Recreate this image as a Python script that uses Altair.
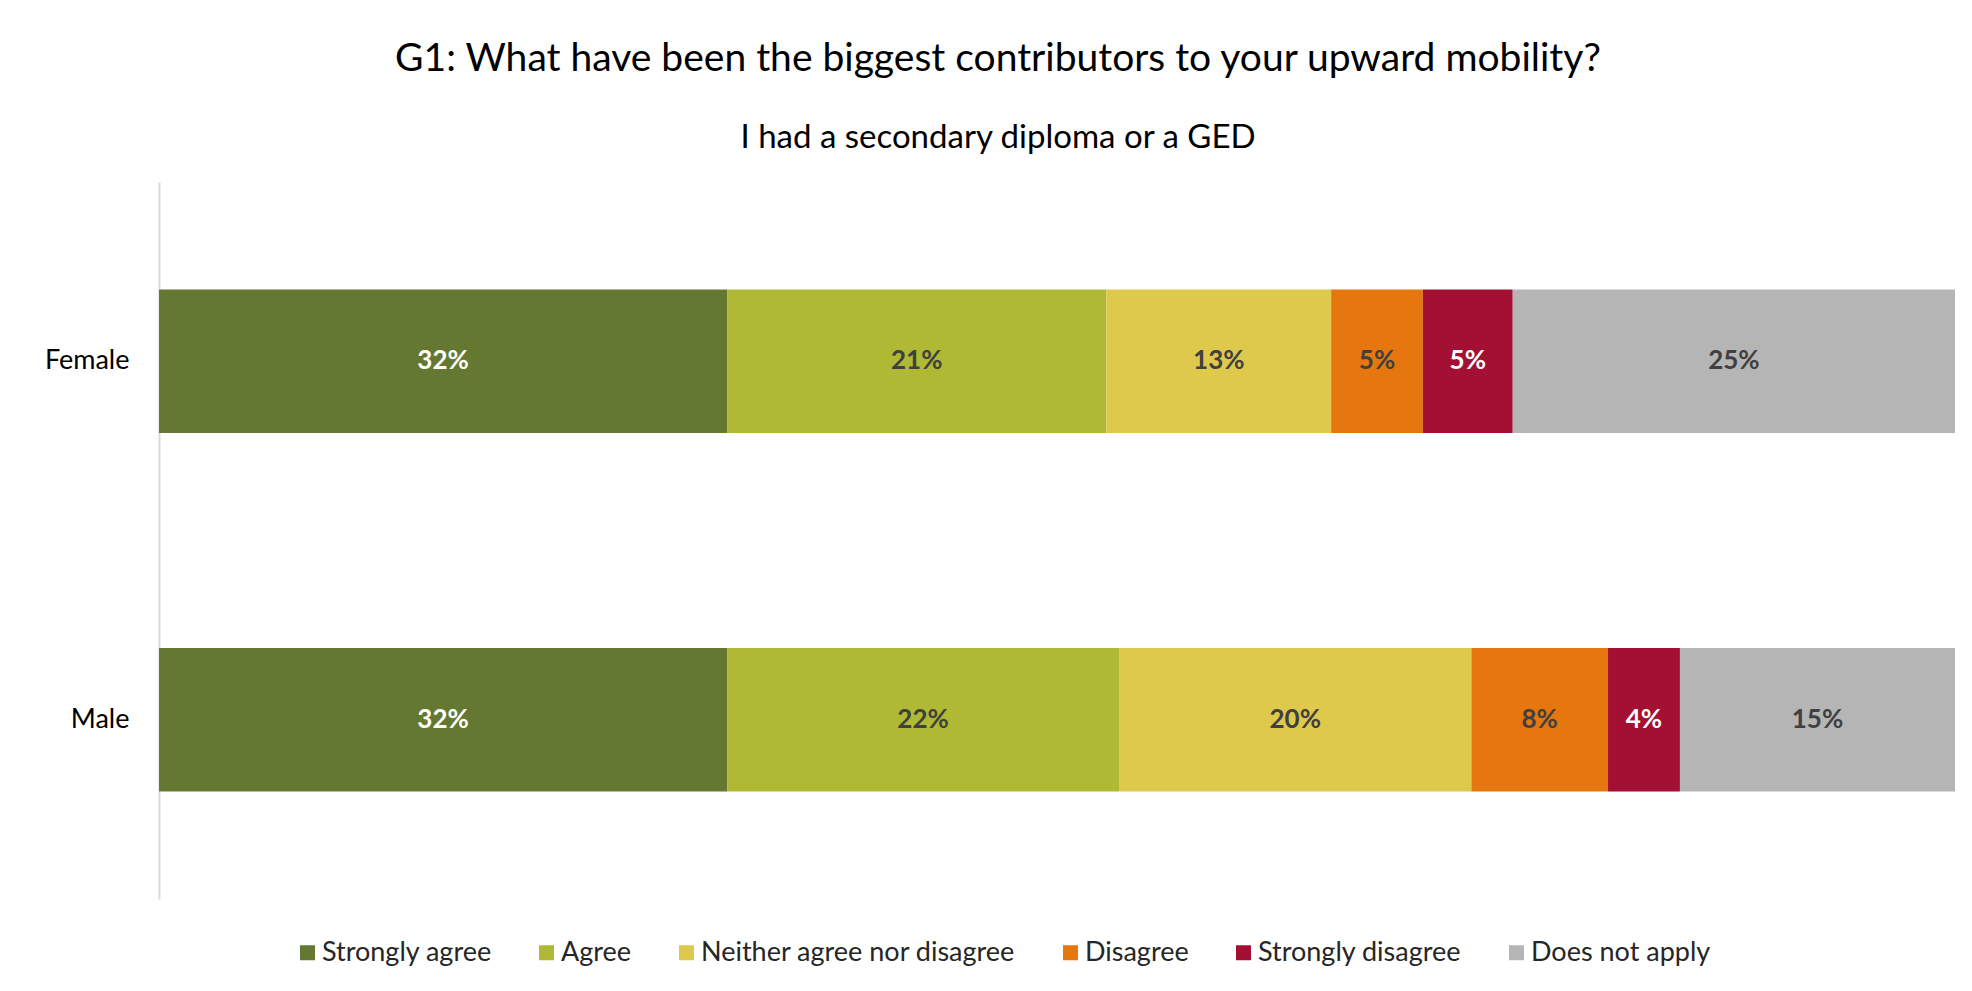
import altair as alt
import pandas as pd

groups = ["Female", "Male"]
categories = ["Strongly agree", "Agree", "Neither agree nor disagree",
              "Disagree", "Strongly disagree", "Does not apply"]
colors = ["#657831", "#b0b933", "#dfc94c", "#e6760e", "#a31034", "#b5b5b5"]
label_colors = ["#ffffff", "#404040", "#404040", "#404040", "#ffffff", "#404040"]
female_values = [31.6, 21.1, 12.5, 5.1, 5.0, 24.6]
male_values = [31.6, 21.8, 19.6, 7.6, 4.0, 15.3]

rows = []
for g, vals in zip(groups, [female_values, male_values]):
    total = sum(vals)
    cum = 0.0
    for i, (c, v) in enumerate(zip(categories, vals)):
        rows.append(dict(group=g, category=c, order=i, value=v,
                         x0=cum / total, x1=(cum + v) / total,
                         mid=(cum + v / 2) / total,
                         label=f"{int(v + 0.5)}%", tcolor=label_colors[i]))
        cum += v
df = pd.DataFrame(rows)

W, H = 1796, 717
FONT = "Lato"

yenc = alt.Y("group:N", sort=groups, title=None,
             scale=alt.Scale(paddingInner=0.6, paddingOuter=0.3),
             axis=alt.Axis(domainColor="#d9d9d9", domainWidth=2, ticks=False,
                           labelFont=FONT, labelFontSize=27, labelColor="#000000",
                           labelPadding=30, grid=False))

base = alt.Chart(df)

bars = base.mark_bar().encode(
    x=alt.X("x0:Q", scale=alt.Scale(domain=[0, 1], nice=False, zero=False), axis=None),
    x2="x1:Q",
    y=yenc,
    color=alt.Color("category:N", sort=categories,
                    scale=alt.Scale(domain=categories, range=colors),
                    legend=alt.Legend(orient="none", legendX=135, legendY=757,
                                      direction="horizontal", title=None,
                                      symbolType="square", symbolSize=225,
                                      symbolStrokeWidth=0, labelFont=FONT,
                                      labelFontSize=27, labelColor="#262626",
                                      labelLimit=500, columnPadding=41,
                                      labelOffset=1)),
)

text = base.mark_text(font=FONT, fontSize=26, fontWeight="bold").encode(
    x=alt.X("mid:Q"),
    y=alt.Y("group:N", sort=groups),
    text="label:N",
    color=alt.Color("tcolor:N", scale=None, legend=None),
)

chart = alt.layer(bars, text).resolve_scale(color="independent").properties(
    width=W, height=H,
    background="#ffffff",
    autosize=alt.AutoSizeParams(type="none"),
    padding={"left": 151, "top": 174, "right": 9, "bottom": 84},
    title=alt.TitleParams(
        text="G1: What have been the biggest contributors to your upward mobility?",
        subtitle="I had a secondary diploma or a GED",
        font=FONT, fontSize=39, fontWeight="normal", color="#000000",
        subtitleFont=FONT, subtitleFontSize=33, subtitleColor="#000000",
        anchor="middle", dx=-59, offset=27, subtitlePadding=43,
    ),
).configure_view(stroke=None, strokeWidth=0)

chart.save("out.html", embed_options={"renderer": "svg", "actions": False})
